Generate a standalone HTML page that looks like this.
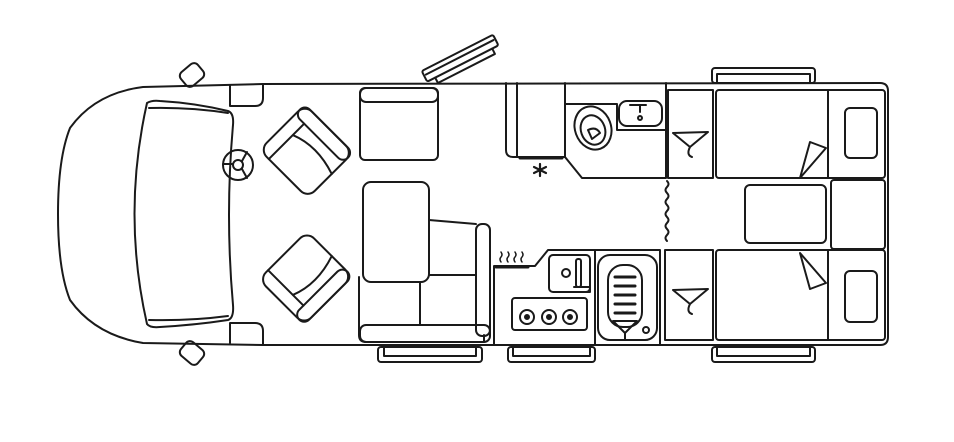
<!DOCTYPE html>
<html><head><meta charset="utf-8"><style>html,body{margin:0;padding:0;background:#fff}svg{display:block}</style></head>
<body>
<svg width="954" height="442" viewBox="0 0 954 442" xmlns="http://www.w3.org/2000/svg" fill="none" stroke="#1a1a1a" stroke-width="2" stroke-linejoin="round" stroke-linecap="round">
<!-- body outline -->
<path d="M143,87 L263,84 L880,83 Q888,83 888,91 L888,337 Q888,345 880,345 L263,345 L143,343 Q95,335 70,300 Q58,270 58,214 Q58,158 70,128 Q95,93 143,87 Z"/>
<!-- windshield -->
<path d="M147,103 Q152,100 160,101 Q195,103 228,111 Q234,113 233,125 Q225,215 233,305 Q234,318 228,320 Q195,325 160,327 Q150,328 147,324 Q122,214 147,103 Z"/>
<path d="M149,108 Q190,107 228,113"/><path d="M149,320 Q190,321 228,316"/>
<!-- mirrors -->
<rect x="181" y="66" width="22" height="18" rx="5" transform="rotate(-40 192 75)"/>
<rect x="181" y="344" width="22" height="18" rx="5" transform="rotate(40 192 353)"/>
<!-- door pillars -->
<path d="M230,85 L230,106 L255,106 Q263,106 263,98 L263,84"/>
<path d="M230,343 L230,323 L255,323 Q263,323 263,331 L263,344"/>
<!-- steering wheel -->
<circle cx="238" cy="165" r="15"/><circle cx="238" cy="165" r="5"/>
<path d="M223,164 L233,164 M242,169 L247,178 M242,161 L247,152"/>
<!-- seats -->
<g transform="rotate(45 307 152)"><rect x="272" y="120" width="68" height="64" rx="10"/><rect x="272" y="120" width="68" height="14" rx="7"/><path d="M285,134 L285,184 M285,150 Q310,140 340,150"/></g>
<g transform="rotate(-45 307 278)"><rect x="272" y="245" width="68" height="64" rx="10"/><rect x="272" y="295" width="68" height="14" rx="7"/><path d="M285,245 L285,295 M285,280 Q310,290 340,280"/></g>
<!-- cupboard -->
<rect x="360" y="88" width="78" height="72" rx="5"/><rect x="360" y="88" width="78" height="14" rx="6"/>
<!-- slanted door -->
<g transform="rotate(-27 461 60)"><rect x="421" y="52" width="80" height="12" rx="2"/><path d="M423,57 L499,57 M430,64 L430,70 L494,70 L494,64"/></g>
<!-- sofa -->
<rect x="363" y="182" width="66" height="100" rx="8"/>
<path d="M429,220 L476,224"/>
<path d="M359,277 L359,335 Q359,342 366,342 L484,342 L484,335"/>
<path d="M420,282 L420,325 L476,325 M429,275 L476,275"/>
<rect x="360" y="325" width="130" height="17" rx="6"/>
<rect x="476" y="224" width="14" height="112" rx="6"/>
<!-- steps -->
<rect x="378" y="347" width="104" height="15" rx="3"/><path d="M384,347 L384,356 L476,356 L476,347"/>
<rect x="508" y="347" width="87" height="15" rx="3"/><path d="M513,347 L513,356 L590,356 L590,347"/>
<rect x="712" y="347" width="103" height="15" rx="3"/><path d="M717,347 L717,356 L810,356 L810,347"/>
<rect x="712" y="68" width="103" height="15" rx="3"/><path d="M717,83 L717,74 L810,74 L810,83"/>
<!-- fridge -->
<path d="M506,83 L506,150 Q506,157 513,157 L565,157 L565,83"/><path d="M517,83 L517,157"/>
<path d="M520,158 L562,158" stroke-width="3"/>
<path d="M540,164 L540,176 M534,167 L546,173 M534,173 L546,167" stroke-width="2.2"/>
<!-- bathroom -->
<path d="M565,104 L565,157 L582,178 L666,178 L666,83"/>
<path d="M565,104 L617,104 L617,130 L666,130"/>
<rect x="619" y="101" width="43" height="25" rx="8"/><path d="M630,105 L646,105 M640,105 L640,112"/><circle cx="640" cy="118" r="2"/>
<ellipse cx="593" cy="128" rx="18" ry="22" transform="rotate(-20 593 128)"/><ellipse cx="593" cy="130" rx="12" ry="15" transform="rotate(-20 593 130)"/>
<path d="M588,130 Q596,126 600,133 L592,139 Z"/>
<!-- wardrobes -->
<rect x="668" y="90" width="45" height="88"/>
<path d="M673,133 L708,132 L690,147 Q686,155 692,157 M673,133 L690,147"/>
<rect x="665" y="250" width="48" height="90"/>
<path d="M673,290 L708,289 L690,304 Q686,312 692,314 M673,290 L690,304"/>
<!-- curtain -->
<path d="M667,181 q3,3 0,6 q-3,3 0,6 q3,3 0,6 q-3,3 0,6 q3,3 0,6 q-3,3 0,6 q3,3 0,6 q-3,3 0,6 q3,3 0,6 q-3,3 0,6"/>
<!-- beds -->
<rect x="716" y="90" width="169" height="88" rx="3"/><path d="M828,90 L828,178"/>
<rect x="845" y="108" width="32" height="50" rx="5"/>
<path d="M800,178 L810,142 L826,148 Z"/>
<rect x="745" y="185" width="81" height="58" rx="5"/><rect x="831" y="180" width="54" height="69" rx="3"/>
<rect x="716" y="250" width="169" height="90" rx="3"/><path d="M828,250 L828,340"/>
<rect x="845" y="271" width="32" height="51" rx="5"/>
<path d="M800,253 L810,289 L826,283 Z"/>
<!-- kitchen -->
<path d="M494,345 L494,266 L535,266 L548,250 L660,250 L660,345"/>
<path d="M595,250 L595,345"/>
<path d="M496,267 L528,267" stroke-width="3"/>
<path d="M501,262 q-2,-3 0,-5 q2,-2 0,-5 M508,262 q-2,-3 0,-5 q2,-2 0,-5 M515,262 q-2,-3 0,-5 q2,-2 0,-5 M522,262 q-2,-3 0,-5 q2,-2 0,-5" stroke-width="1.5"/>
<rect x="549" y="255" width="41" height="37" rx="4"/><rect x="576" y="259" width="5" height="28" rx="2"/><path d="M574,287 L590,287 L590,292 L574,292"/><circle cx="566" cy="273" r="4"/>
<rect x="512" y="298" width="75" height="32" rx="3"/>
<g><circle cx="527" cy="317" r="7"/><circle cx="527" cy="317" r="2" fill="#1a1a1a"/><circle cx="549" cy="317" r="7"/><circle cx="549" cy="317" r="2" fill="#1a1a1a"/><circle cx="570" cy="317" r="7"/><circle cx="570" cy="317" r="2" fill="#1a1a1a"/></g>
<rect x="598" y="255" width="59" height="85" rx="12"/>
<rect x="608" y="265" width="34" height="62" rx="15"/>
<path d="M615,277 h20 M615,286 h20 M615,295 h20 M615,304 h20 M615,313 h20" stroke-width="3"/>
<path d="M613,321 L637,321 L625,333 Z M625,333 L625,340"/><circle cx="646" cy="330" r="3"/>
</svg>
</body></html>
